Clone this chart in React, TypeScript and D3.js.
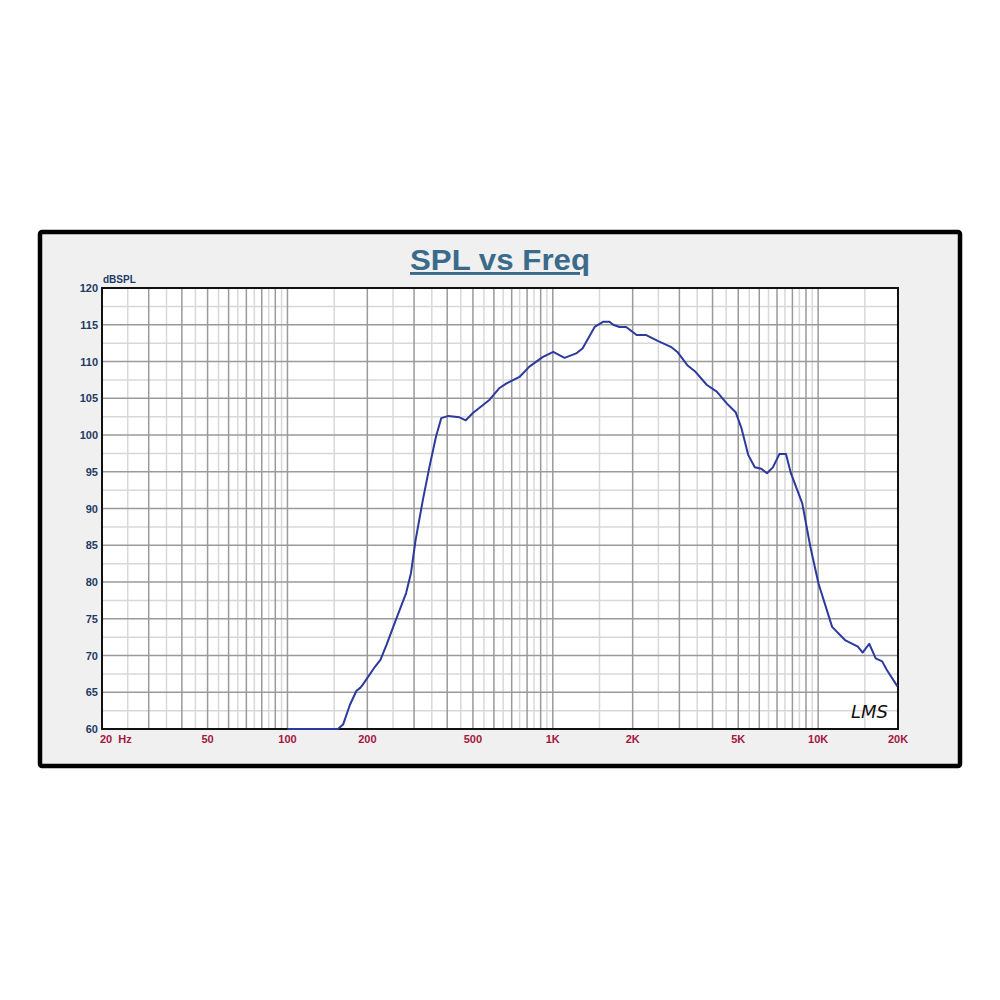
import React from 'react';
import * as d3 from 'd3';

// frequency response (Hz, dBSPL)
const freqs = [100, 155, 162, 172, 182, 188, 192, 214, 224, 236, 256, 280, 292, 304, 324, 343, 363, 380, 404, 445, 470, 500, 578, 630, 667, 749, 816, 915, 1004, 1107, 1225, 1296, 1438, 1546, 1635, 1690, 1783, 1890, 2070, 2250, 2485, 2785, 2948, 3214, 3450, 3810, 4151, 4523, 4888, 5145, 5450, 5771, 6110, 6414, 6752, 7145, 7564, 7894, 8714, 9348, 10031, 11290, 12623, 14119, 14718, 15580, 16480, 17436, 18180, 19900];
const spl = [60, 60, 60.6, 63.3, 65.2, 65.6, 66, 68.5, 69.4, 71.4, 74.8, 78.5, 81.2, 85.7, 91.2, 95.7, 99.8, 102.3, 102.6, 102.4, 102.0, 103.0, 104.8, 106.4, 107.0, 107.9, 109.3, 110.6, 111.3, 110.5, 111.1, 111.8, 114.7, 115.4, 115.4, 115.0, 114.7, 114.7, 113.6, 113.6, 112.8, 112.0, 111.3, 109.5, 108.6, 106.8, 105.9, 104.3, 103.1, 100.9, 97.3, 95.6, 95.4, 94.8, 95.6, 97.4, 97.4, 94.8, 90.7, 84.8, 79.8, 73.9, 72.1, 71.2, 70.4, 71.6, 69.6, 69.2, 68.0, 65.8];

const yTicks = [60, 65, 70, 75, 80, 85, 90, 95, 100, 105, 110, 115, 120];
const xTicks = [50, 100, 200, 500, 1000, 2000, 5000, 10000, 20000];
const xTickLabels = ['50', '100', '200', '500', '1K', '2K', '5K', '10K', '20K'];
const decades = [10, 100, 1000, 10000];

const left = 102, right = 898, top = 288, bottom = 729;

export default function App() {
  const x = d3.scaleLog().domain([20, 20000]).range([left, right]);
  const y = d3.scaleLinear().domain([60, 120]).range([bottom, top]);

  // grid: dark at whole multiples, light at the halves
  const darkV: number[] = [];
  const lightV: number[] = [];
  decades.forEach(d => {
    for (let m = 1; m <= 9; m++) {
      const f = d * m;
      if (f > 20 && f < 20000) darkV.push(f);
      const h = d * (m + 0.5);
      if (h > 20 && h < 20000) lightV.push(h);
    }
  });
  const darkH = d3.range(65, 120, 5);
  const lightH = d3.range(62.5, 120, 5);

  const pts = freqs.map((f, i) => [f, spl[i]] as [number, number]);
  const line = d3.line<[number, number]>()
    .x(d => x(d[0]))
    .y(d => y(d[1]));

  const font = 'Arial, "Liberation Sans", sans-serif';

  return (
    <svg width={1000} height={1000} style={{ position: 'absolute', left: 0, top: 0 }}>
      <rect x={0} y={0} width={1000} height={1000} fill="#ffffff" />
      <rect x={40} y={232} width={920} height={534} fill="#f0f0f0" stroke="#000" strokeWidth={4.5} rx={2} />

      <text x={500} y={270} textAnchor="middle" fontFamily={font} fontWeight="bold" fontSize={29}
        fill="#3b6b8b" textDecoration="underline" textLength={180} lengthAdjust="spacingAndGlyphs">SPL vs Freq</text>

      <rect x={left} y={top} width={right - left} height={bottom - top} fill="#ffffff" />

      <g>
        {lightH.map(v => (
          <line key={'lh' + v} x1={left} x2={right} y1={y(v)} y2={y(v)} stroke="#d8d8d8" strokeWidth={1.5} />
        ))}
        {lightV.map(f => (
          <line key={'lv' + f} x1={x(f)} x2={x(f)} y1={top} y2={bottom} stroke="#d8d8d8" strokeWidth={1.5} />
        ))}
        {darkH.map(v => (
          <line key={'dh' + v} x1={left} x2={right} y1={y(v)} y2={y(v)} stroke="#9a9a9a" strokeWidth={1.5} />
        ))}
        {darkV.map(f => (
          <line key={'dv' + f} x1={x(f)} x2={x(f)} y1={top} y2={bottom} stroke="#9a9a9a" strokeWidth={1.5} />
        ))}
      </g>

      <rect x={left} y={top} width={right - left} height={bottom - top} fill="none" stroke="#111" strokeWidth={2} />

      <path d={line(pts) || ''} fill="none" stroke="#2b3a9c" strokeWidth={2} strokeLinejoin="round" />

      <text x={103} y={283} fontFamily={font} fontWeight="bold" fontSize={10} fill="#1f3a66">dBSPL</text>
      {yTicks.map(v => (
        <text key={'yt' + v} x={98} y={y(v) + 4} textAnchor="end" fontFamily={font} fontWeight="bold" fontSize={11} fill="#1f3a66">{v}</text>
      ))}

      <text x={100} y={743} fontFamily={font} fontWeight="bold" fontSize={11} fill="#a3173f" xmlSpace="preserve">20  Hz</text>
      {xTicks.map((f, i) => (
        <text key={'xt' + f} x={x(f)} y={743} textAnchor="middle" fontFamily={font} fontWeight="bold" fontSize={11} fill="#a3173f">{xTickLabels[i]}</text>
      ))}

      <text x={851} y={718} fontFamily='"DejaVu Sans", sans-serif' fontStyle="italic" fontSize={18} fill="#111"
        textLength={37} lengthAdjust="spacingAndGlyphs">LMS</text>
    </svg>
  );
}
